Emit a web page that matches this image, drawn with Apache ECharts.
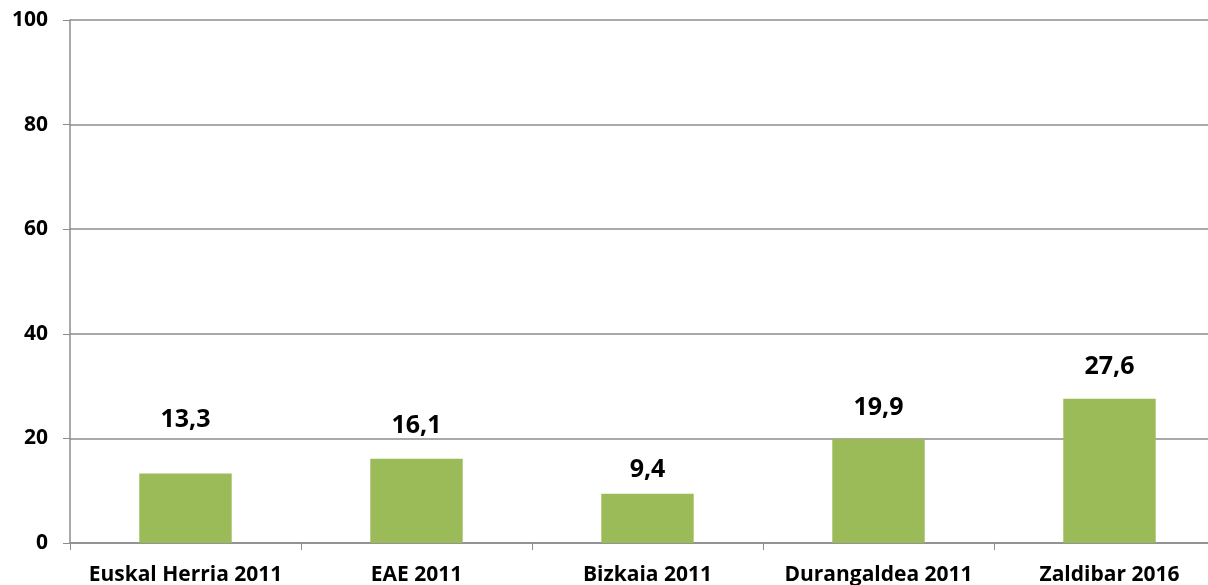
<!DOCTYPE html>
<html>
<head>
<meta charset="utf-8">
<script src="https://cdn.jsdelivr.net/npm/echarts@6/dist/echarts.min.js"></script>
<style>html,body{margin:0;padding:0;background:#fff}#chart{width:1208px;height:585px}</style>
</head>
<body>
<div id="chart"></div>
<script>
// categories + values
const categories = ['Euskal Herria 2011', 'EAE 2011', 'Bizkaia 2011', 'Durangaldea 2011', 'Zaldibar 2016']
const values = [13.3, 16.1, 9.4, 19.9, 27.6]
const yTicks = [0, 20, 40, 60, 80, 100]
// label gap above each bar (the original places them unevenly)
const labelGap = [41, 20, 11, 19, 19]

const chart = echarts.init(document.getElementById('chart'))
const font = '"Open Sans", "Noto Sans", sans-serif'

chart.setOption({
  animation: false,
  grid: { left: 70, right: -17, top: 20, bottom: 42, outerBoundsMode: 'none' },
  xAxis: {
    type: 'category', data: categories,
    axisLine: { lineStyle: { color: '#8c8c8c', width: 1.5 } },
    axisTick: { show: true, length: 7, lineStyle: { color: '#8c8c8c' } },
    axisLabel: { color: '#000', fontWeight: 'bold', fontSize: 21, fontFamily: font, margin: 22, interval: 0 }
  },
  yAxis: {
    type: 'value', min: yTicks[0], max: yTicks[yTicks.length - 1], interval: 20,
    axisLine: { show: true, lineStyle: { color: '#8c8c8c', width: 1.5 } },
    axisTick: { show: true, length: 7, lineStyle: { color: '#8c8c8c' } },
    axisLabel: { color: '#000', fontWeight: 'bold', fontSize: 21, fontFamily: font, margin: 22 },
    splitLine: { lineStyle: { color: '#8c8c8c', width: 1.5 } }
  },
  series: [{
    type: 'bar', barWidth: '40%',
    data: values.map((v, i) => ({ value: v, label: { distance: labelGap[i] } })),
    itemStyle: { color: '#9bbb59' },
    label: {
      show: true, position: 'top',
      color: '#000', fontWeight: 'bold', fontSize: 25, fontFamily: font,
      formatter: p => String(p.value).replace('.', ',')
    }
  }]
})
</script>
</body>
</html>
